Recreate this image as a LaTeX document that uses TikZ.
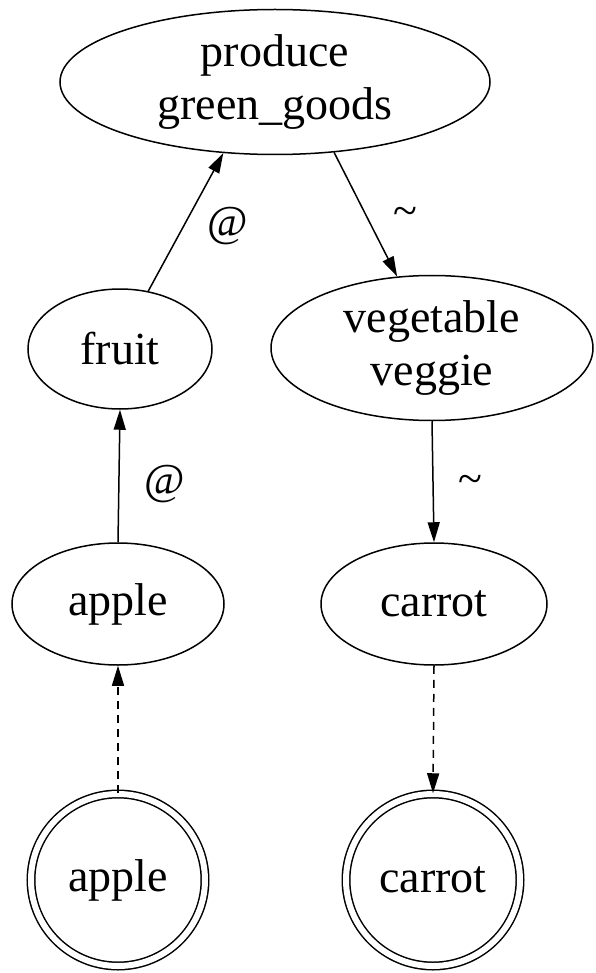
\documentclass[tikz,border=0pt]{standalone}
\usepackage{fontspec}
\setmainfont{Liberation Serif}
\usetikzlibrary{shapes.geometric,arrows.meta}

\tikzset{
    state/.style={draw, ellipse, line width=1.5pt, inner sep=0pt, align=center,
        font=\fontsize{46}{53}\selectfont},
    final/.style={state, double, double distance=6pt},
    link/.style={line width=1.5pt, -{Triangle[length=20pt,width=12pt]}},
    lbl/.style={font=\fontsize{44}{50}\selectfont}
}

\begin{document}
\begin{tikzpicture}[x=1pt, y=-1pt]
    \useasboundingbox (0,0) rectangle (595,973);

    % Top node and the two middle ones
    \node[state, minimum width=430pt, minimum height=145pt] (produce) at (275,82) {produce\\green\_goods};
    \node[state, minimum width=184pt, minimum height=120pt] (fruit) at (120,349) {fruit};
    \node[state, minimum width=322pt, minimum height=145pt] (veg) at (432,348) {vegetable\\veggie};

    % The words
    \node[state, minimum width=212pt, minimum height=122pt] (apple) at (118,604) {apple};
    \node[state, minimum width=226pt, minimum height=122pt] (carrot) at (434,604) {carrot};

    % Double circles at the bottom
    \node[final, minimum width=174pt, minimum height=172pt] (appleF) at (118,880) {apple};
    \node[final, minimum width=174pt, minimum height=172pt] (carrotF) at (433,880) {carrot};

    % Solid links with their labels
    \draw[link] (fruit.64) -- (produce.234);
    \draw[link] (produce.310) -- (veg.116);
    \draw[link] (apple.north) -- (fruit.south);
    \draw[link] (veg.south) -- (carrot.north);
    \node[lbl] (at1) at (228,226) {@};
    \node[lbl] (tl1) at (405,216) {\textasciitilde};
    \node[lbl] (at2) at (165,484) {@};
    \node[lbl] (tl2) at (470,484) {\textasciitilde};

    % Dashed links from the double circles
    \draw[link, dashed, dash pattern=on 8pt off 6pt] (appleF.north) -- (apple.south);
    \draw[link, dashed, dash pattern=on 8pt off 6pt] (carrot.south) -- (carrotF.north);
\end{tikzpicture}
\end{document}
